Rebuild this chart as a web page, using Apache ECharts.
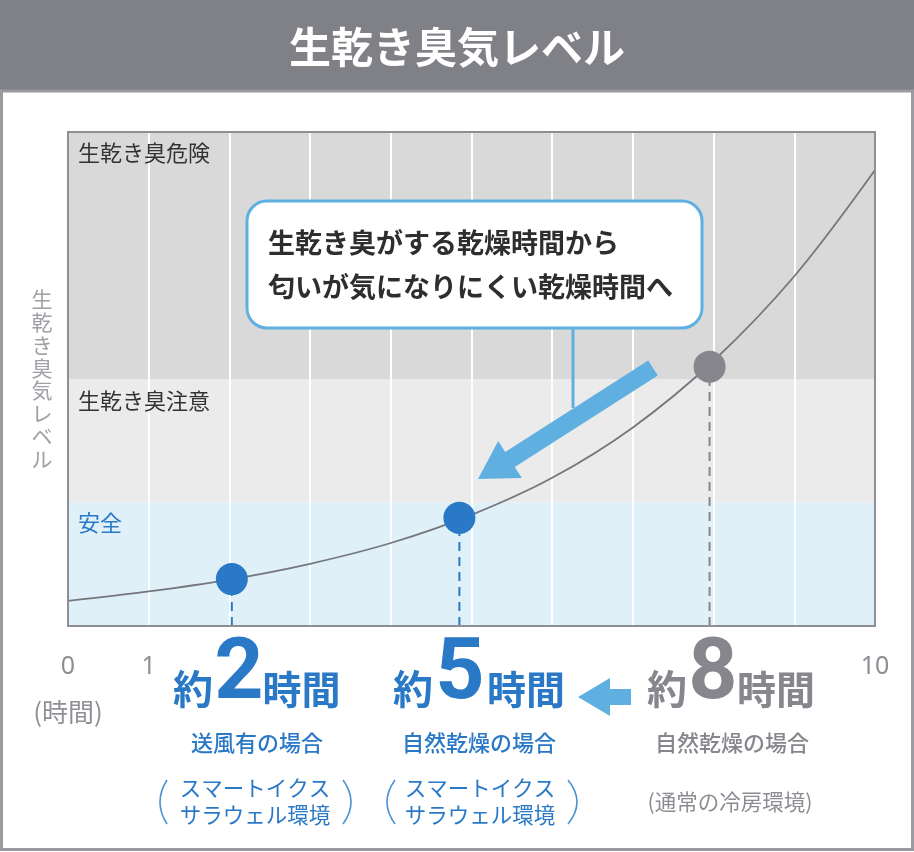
<!DOCTYPE html>
<html><head><meta charset="utf-8">
<script src="https://cdn.jsdelivr.net/npm/echarts@6/dist/echarts.min.js"></script>
<style>html,body{margin:0;padding:0;background:#fff}#c{width:914px;height:852px}</style>
</head><body><div id="c"></div>
<script>
// ---- data ----
const titleText = '生乾き臭気レベル';
const yAxisTitle = '生乾き臭気レベル';
const curveHours = [0, 1, 2, 3, 4, 5, 6, 7, 8, 9, 10];
const curveLevel = [5.1, 7.0, 9.4, 12.6, 16.8, 22.5, 30.0, 40.2, 53.7, 70.8, 92.3];
const markerHours = [2.03, 4.85, 7.95];
const markerLevel = [9.5, 21.9, 52.5];
const markerKinds = ['blue', 'blue', 'gray'];
const zoneColors = ['#dff0f9', '#ebebeb', '#d9d9d9', '#d9d9d9'];
const zoneNames = ['安全', '生乾き臭注意', '生乾き臭危険'];
const xTickShown = [0, 1, 10];
const calloutLines = ['生乾き臭がする乾燥時間から', '匂いが気になりにくい乾燥時間へ'];
const hourNums = ['2', '5', '8'];
const caseNames = ['送風有の場合', '自然乾燥の場合', '自然乾燥の場合'];
const envLines1 = ['スマートイクス', 'スマートイクス'];
const envLines2 = ['サラウェル環境', 'サラウェル環境'];
const envNormal = '(通常の冷房環境)';

const BLUE = '#2a79c7', GRAY = '#86868c', LBLUE = '#5fb0e1';
const JP = '"Noto Sans CJK JP", "Noto Sans", sans-serif';
const kindColor = k => k === 'blue' ? BLUE : GRAY;

const chart = echarts.init(document.getElementById('c'), null, {renderer: 'canvas'});

const series = [{
  type: 'line', smooth: 0.35, showSymbol: false, silent: true,
  data: curveHours.map((h, i) => [h, curveLevel[i]]),
  lineStyle: {color: '#76767c', width: 1.8}, z: 3
}];
markerHours.forEach((h, i) => {
  series.push({
    type: 'line', showSymbol: false, silent: true,
    data: [[h, 0], [h, markerLevel[i]]],
    lineStyle: {color: kindColor(markerKinds[i]), width: 2, type: [9, 6]}, z: 2
  });
});
series.push({
  type: 'scatter', symbolSize: 32, silent: true, z: 5,
  data: markerHours.map((h, i) => ({value: [h, markerLevel[i]], itemStyle: {color: kindColor(markerKinds[i]), opacity: 1}}))
});

function txt(text, x, y, size, color, opts) {
  return Object.assign({type: 'text', x: x, y: y, z: 50, style: Object.assign({
    text: text, fontSize: size, fill: color, fontFamily: JP,
    textAlign: 'center', textVerticalAlign: 'middle'
  }, (opts || {}))});
}

const bigCenters = [[193, 239, 301.5], [413, 460, 526], [667, 713, 776]];
const graphics = [
  {type: 'rect', shape: {x: 0, y: 0, width: 914, height: 92}, style: {fill: '#808087'}, z: 40},
  {type: 'rect', shape: {x: 1.5, y: 91, width: 911, height: 758.5}, style: {fill: 'none', stroke: '#9a9aa0', lineWidth: 3}, z: 40},
  txt(titleText, 457, 47, 42, '#ffffff', {fontWeight: 'bold'}),
  {type: 'rect', shape: {x: 68, y: 132, width: 807, height: 494}, style: {fill: 'none', stroke: '#8e8e94', lineWidth: 2}, z: 40},
  txt(zoneNames[2], 78, 153, 22, '#333333', {textAlign: 'left'}),
  txt(zoneNames[1], 78, 401, 22, '#333333', {textAlign: 'left'}),
  txt(zoneNames[0], 78, 523, 22, BLUE, {textAlign: 'left'}),
  txt(yAxisTitle.split('').join('\n'), 42, 379, 21, '#a0a0a6', {lineHeight: 22.8}),
  // callout
  {type: 'line', shape: {x1: 573, y1: 328, x2: 573, y2: 408}, style: {stroke: LBLUE, lineWidth: 3}, z: 45},
  {type: 'rect', shape: {x: 247, y: 201, width: 455, height: 127, r: 20}, style: {fill: '#ffffff', stroke: LBLUE, lineWidth: 3}, z: 46},
  txt(calloutLines[0], 268, 243, 27, '#2e2e2e', {textAlign: 'left', fontWeight: 'bold'}),
  txt(calloutLines[1], 268, 287, 27, '#2e2e2e', {textAlign: 'left', fontWeight: 'bold'}),
  {type: 'polygon', shape: {points: [[648.2, 360.4], [657.8, 375.6], [514.8, 467.1], [521.8, 478.1], [478, 479], [498.2, 440.9], [505.2, 451.9]]}, style: {fill: LBLUE}, z: 45},
  // small arrow
  {type: 'polygon', shape: {points: [[578, 697], [610, 678], [610, 689], [631, 689], [631, 705], [610, 705], [610, 716]]}, style: {fill: LBLUE}, z: 45},
  txt('(時間)', 68, 712, 26, '#909096')
];
hourNums.forEach((n, i) => {
  const c = i < 2 ? BLUE : GRAY;
  const xs = bigCenters[i];
  graphics.push(txt('約', xs[0], 689, 40, c, {fontWeight: 'bold'}));
  graphics.push(txt(n, xs[1], 676, 86, c, {fontWeight: 'bold', fontFamily: 'Roboto, "Liberation Sans", sans-serif'}));
  graphics.push(txt('時間', xs[2], 689, 39, c, {fontWeight: 'bold'}));
});
const caseX = [257, 479, 732];
caseNames.forEach((s, i) => graphics.push(txt(s, caseX[i], 743, 22, i < 2 ? BLUE : GRAY, {fontWeight: 500})));
const envX = [255, 480];
envLines1.forEach((s, i) => {
  graphics.push(txt(s, envX[i], 788, 21.5, BLUE));
  graphics.push(txt(envLines2[i], envX[i], 815, 21.5, BLUE));
});
graphics.push(txt(envNormal, 730, 802, 21.5, '#8c8c92'));
// parentheses
[[167, 153], [343, 359], [395, 379], [568, 586]].forEach(p => {
  graphics.push({type: 'bezierCurve', shape: {x1: p[0], y1: 780, x2: p[0], y2: 824, cpx1: p[1], cpy1: 802}, style: {stroke: '#4b92d4', lineWidth: 1.6, fill: 'none'}, z: 45});
});

chart.setOption({
  animation: false,
  backgroundColor: '#ffffff',
  grid: {left: 68, top: 132, width: 807, height: 494, containLabel: false},
  xAxis: {
    type: 'value', min: 0, max: 10, interval: 1, z: 1,
    axisLine: {show: false}, axisTick: {show: false},
    splitLine: {show: true, lineStyle: {color: '#ffffff', width: 2}},
    axisLabel: {
      margin: 28, fontSize: 25, color: '#8e8e94', fontFamily: '"Noto Sans", sans-serif',
      formatter: v => xTickShown.indexOf(v) >= 0 ? String(v) : ''
    }
  },
  yAxis: {
    type: 'value', min: 0, max: 100, interval: 25, z: 0,
    axisLine: {show: false}, axisTick: {show: false}, axisLabel: {show: false},
    splitLine: {show: false},
    splitArea: {show: true, areaStyle: {color: zoneColors}}
  },
  graphic: graphics,
  series: series
});
</script>
</body></html>
